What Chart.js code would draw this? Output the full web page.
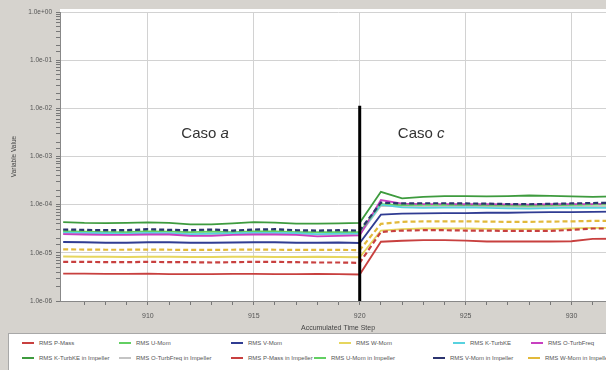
<!DOCTYPE html>
<html>
<head>
<meta charset="utf-8">
<script src="https://cdn.jsdelivr.net/npm/chart.js@4.4.0/dist/chart.umd.min.js"></script>
<style>
  html, body { margin: 0; padding: 0; }
  body { width: 606px; height: 370px; overflow: hidden; background: #d6d3ce; position: relative; font-family: "Liberation Sans", Arial, sans-serif; }
  #wrap { position: absolute; left: 0; top: 0; width: 618px; height: 332px; }
  #legend { position: absolute; left: 8px; top: 333px; width: 610px; height: 38px; background: #fff; border: 1px solid #a8a8a8; box-sizing: border-box; }
  .item { position: absolute; font-size: 6px; color: #555; white-space: nowrap; line-height: 8px; }
  .swatch { display: inline-block; width: 12px; height: 0; border-top: 2px solid; vertical-align: middle; margin-right: 5px; }
</style>
</head>
<body>
<div id="wrap"><canvas id="chart" width="618" height="332"></canvas></div>
<div id="legend"></div>
<script>
// accumulated time steps
const steps = [906, 907, 908, 909, 910, 911, 912, 913, 914, 915, 916, 917, 918, 919, 920,
               921, 922, 923, 924, 925, 926, 927, 928, 929, 930, 931, 932];

const pMass = [3.7e-6, 3.7e-6, 3.65e-6, 3.65e-6, 3.7e-6, 3.6e-6, 3.6e-6, 3.6e-6, 3.65e-6, 3.65e-6, 3.6e-6, 3.6e-6, 3.65e-6, 3.6e-6, 3.55e-6,
               1.7e-5, 1.78e-5, 1.84e-5, 1.84e-5, 1.8e-5, 1.72e-5, 1.72e-5, 1.72e-5, 1.72e-5, 1.74e-5, 1.95e-5, 1.96e-5];
const uMom = [2.8e-5, 2.75e-5, 2.7e-5, 2.7e-5, 2.8e-5, 2.75e-5, 2.7e-5, 2.75e-5, 2.7e-5, 2.8e-5, 2.8e-5, 2.7e-5, 2.7e-5, 2.7e-5, 2.7e-5,
              1.02e-4, 9.8e-5, 9.9e-5, 9.9e-5, 9.8e-5, 9.7e-5, 9.6e-5, 9.5e-5, 9.7e-5, 9.9e-5, 1.0e-4, 1.02e-4];
const vMom = [1.68e-5, 1.66e-5, 1.62e-5, 1.62e-5, 1.66e-5, 1.66e-5, 1.62e-5, 1.62e-5, 1.64e-5, 1.66e-5, 1.66e-5, 1.62e-5, 1.62e-5, 1.64e-5, 1.6e-5,
              6.2e-5, 6.5e-5, 6.6e-5, 6.7e-5, 6.7e-5, 6.8e-5, 6.8e-5, 6.9e-5, 7.0e-5, 7.0e-5, 7.1e-5, 7.2e-5];
const wMom = [8.4e-6, 8.3e-6, 8.3e-6, 8.2e-6, 8.3e-6, 8.3e-6, 8.2e-6, 8.2e-6, 8.3e-6, 8.3e-6, 8.2e-6, 8.2e-6, 8.3e-6, 8.2e-6, 8.1e-6,
              2.9e-5, 3.1e-5, 3.2e-5, 3.2e-5, 3.2e-5, 3.15e-5, 3.1e-5, 3.1e-5, 3.1e-5, 3.2e-5, 3.3e-5, 3.3e-5];
const kTurb = [2.65e-5, 2.6e-5, 2.55e-5, 2.5e-5, 2.6e-5, 2.55e-5, 2.45e-5, 2.5e-5, 2.55e-5, 2.6e-5, 2.6e-5, 2.55e-5, 2.45e-5, 2.5e-5, 2.5e-5,
               1.0e-4, 8.8e-5, 8.6e-5, 8.7e-5, 8.8e-5, 8.6e-5, 8.4e-5, 8.3e-5, 8.5e-5, 8.7e-5, 8.6e-5, 8.6e-5];
const oTurb = [2.45e-5, 2.4e-5, 2.35e-5, 2.35e-5, 2.4e-5, 2.4e-5, 2.25e-5, 2.25e-5, 2.35e-5, 2.4e-5, 2.4e-5, 2.35e-5, 2.2e-5, 2.25e-5, 2.3e-5,
               1.25e-4, 1.05e-4, 1.03e-4, 1.03e-4, 1.02e-4, 1.02e-4, 1.01e-4, 1.0e-4, 1.02e-4, 1.03e-4, 1.03e-4, 1.04e-4];
const kTurbImp = [4.35e-5, 4.2e-5, 4.15e-5, 4.2e-5, 4.3e-5, 4.2e-5, 3.9e-5, 3.9e-5, 4.1e-5, 4.35e-5, 4.25e-5, 4.05e-5, 4.05e-5, 4.1e-5, 4.2e-5,
                  1.85e-4, 1.35e-4, 1.45e-4, 1.5e-4, 1.5e-4, 1.48e-4, 1.5e-4, 1.55e-4, 1.52e-4, 1.48e-4, 1.45e-4, 1.48e-4];
const oTurbImp = [2.55e-5, 2.5e-5, 2.45e-5, 2.45e-5, 2.5e-5, 2.5e-5, 2.4e-5, 2.4e-5, 2.45e-5, 2.5e-5, 2.5e-5, 2.45e-5, 2.4e-5, 2.4e-5, 2.4e-5,
                  9.5e-5, 9.2e-5, 9.0e-5, 9.1e-5, 9.2e-5, 9.1e-5, 8.9e-5, 8.8e-5, 9.0e-5, 9.2e-5, 9.1e-5, 9.2e-5];
const pMassImp = [6.5e-6, 6.5e-6, 6.4e-6, 6.4e-6, 6.5e-6, 6.4e-6, 6.4e-6, 6.3e-6, 6.4e-6, 6.5e-6, 6.5e-6, 6.4e-6, 6.3e-6, 6.3e-6, 6.2e-6,
                  2.72e-5, 2.9e-5, 2.95e-5, 2.95e-5, 2.9e-5, 2.9e-5, 2.85e-5, 2.85e-5, 2.85e-5, 3.0e-5, 3.2e-5, 3.2e-5];
const uMomImp = [2.9e-5, 2.85e-5, 2.85e-5, 2.8e-5, 2.9e-5, 2.85e-5, 2.8e-5, 2.85e-5, 2.8e-5, 2.9e-5, 2.9e-5, 2.85e-5, 2.8e-5, 2.8e-5, 2.8e-5,
                 1.06e-4, 1.02e-4, 1.03e-4, 1.03e-4, 1.02e-4, 1.01e-4, 1.0e-4, 9.9e-5, 1.0e-4, 1.02e-4, 1.04e-4, 1.06e-4];
const vMomImp = [3.05e-5, 3.0e-5, 2.95e-5, 2.95e-5, 3.1e-5, 3.0e-5, 2.95e-5, 3.05e-5, 2.9e-5, 3.05e-5, 3.1e-5, 2.95e-5, 2.9e-5, 2.95e-5, 2.9e-5,
                 1.1e-4, 1.06e-4, 1.07e-4, 1.07e-4, 1.06e-4, 1.05e-4, 1.03e-4, 1.02e-4, 1.04e-4, 1.06e-4, 1.08e-4, 1.1e-4];
const wMomImp = [1.18e-5, 1.17e-5, 1.16e-5, 1.16e-5, 1.17e-5, 1.16e-5, 1.15e-5, 1.15e-5, 1.16e-5, 1.17e-5, 1.16e-5, 1.15e-5, 1.15e-5, 1.15e-5, 1.14e-5,
                 4.0e-5, 4.4e-5, 4.5e-5, 4.5e-5, 4.5e-5, 4.45e-5, 4.4e-5, 4.4e-5, 4.45e-5, 4.5e-5, 4.6e-5, 4.6e-5];

const seriesNames = ['RMS P-Mass', 'RMS U-Mom', 'RMS V-Mom', 'RMS W-Mom', 'RMS K-TurbKE', 'RMS O-TurbFreq',
                     'RMS K-TurbKE in Impeller', 'RMS O-TurbFreq in Impeller', 'RMS P-Mass in Impeller',
                     'RMS U-Mom in Impeller', 'RMS V-Mom in Impeller', 'RMS W-Mom in Impeller'];
const seriesValues = [pMass, uMom, vMom, wMom, kTurb, oTurb, kTurbImp, oTurbImp, pMassImp, uMomImp, vMomImp, wMomImp];

// vertical separator between the two cases
const splitStep = 920;
const splitRange = [0.0113, 1e-6];

// y axis decades
const yMin = 1e-6;
const yMax = 1;

// styles (kept apart from the data)
const colors = ['#c8403f', '#62cf62', '#303c92', '#e6d65e', '#58d2df', '#c83fc0',
                '#3e9b3e', '#c4c4c4', '#c8403f', '#62cf62', '#2c346f', '#e2b93a'];
const dashed = [false, false, false, false, false, false, false, false, true, true, true, true];
const drawOrder = [9, 6, 5, 8, 4, 3, 0, 7, 7, 2, 1, 8];
const legendPos = [[13, 5], [110, 5], [222, 5], [330, 5], [444, 5], [522, 5],
                   [13, 20], [110, 20], [222, 20], [305, 20], [424, 20], [519, 20]];

const datasets = seriesNames.map((name, i) => ({
    label: name,
    data: steps.map((s, k) => ({ x: s, y: seriesValues[i][k] })),
    borderColor: colors[i],
    borderWidth: dashed[i] ? 2.2 : 1.8,
    borderDash: dashed[i] ? [5, 3] : [],
    pointRadius: 0,
    tension: 0,
    order: drawOrder[i] + 1
}));

datasets.push({
    label: 'split',
    data: splitRange.map(v => ({ x: splitStep, y: v })),
    borderColor: '#000',
    borderWidth: 3,
    pointRadius: 0,
    order: 0
});

const caseLabels = [
    { text: 'Caso ', letter: 'a', x: 912.7, y: 0.003 },
    { text: 'Caso ', letter: 'c', x: 922.9, y: 0.003 }
];

const isDecade = v => Math.abs(Math.log10(v) - Math.round(Math.log10(v))) < 1e-6;

const plotBackground = {
    id: 'plotBackground',
    beforeDraw(chart) {
        const { ctx, chartArea } = chart;
        ctx.save();
        ctx.fillStyle = '#fff';
        ctx.fillRect(chartArea.left, chartArea.top - 3, chartArea.right - chartArea.left, chartArea.bottom - chartArea.top + 3);
        ctx.restore();
    }
};

const caseText = {
    id: 'caseText',
    afterDatasetsDraw(chart) {
        const { ctx, scales } = chart;
        ctx.save();
        ctx.fillStyle = '#333';
        ctx.textBaseline = 'middle';
        caseLabels.forEach(c => {
            ctx.font = '15px "Liberation Sans", Arial, sans-serif';
            const w1 = ctx.measureText(c.text).width;
            ctx.font = 'italic 15px "Liberation Sans", Arial, sans-serif';
            const w2 = ctx.measureText(c.letter).width;
            const left = scales.x.getPixelForValue(c.x) - (w1 + w2) / 2;
            const py = scales.y.getPixelForValue(c.y);
            ctx.font = '15px "Liberation Sans", Arial, sans-serif';
            ctx.fillText(c.text, left, py);
            ctx.font = 'italic 15px "Liberation Sans", Arial, sans-serif';
            ctx.fillText(c.letter, left + w1, py);
        });
        ctx.restore();
    }
};

new Chart(document.getElementById('chart').getContext('2d'), {
    type: 'line',
    data: { datasets },
    options: {
        responsive: false,
        animation: false,
        layout: { padding: { top: 12, right: 2, left: 0, bottom: 0 } },
        plugins: {
            legend: { display: false },
            tooltip: { enabled: false }
        },
        scales: {
            x: {
                type: 'linear',
                min: 905.85,
                max: 932.1,
                afterBuildTicks: ax => { ax.ticks = ax.ticks.filter(t => Number.isInteger(t.value)); },
                afterFit: s => { s.height = 31; },
                ticks: {
                    stepSize: 1,
                    autoSkip: false,
                    maxRotation: 0,
                    padding: 7,
                    color: '#555',
                    font: { size: 7 },
                    callback: v => (v % 5 === 0 ? String(v) : '')
                },
                grid: {
                    color: c => (c.tick && c.tick.value % 5 === 0 ? '#d2d2d2' : 'rgba(0,0,0,0)'),
                    tickColor: '#777',
                    tickLength: 4
                },
                border: { color: '#888' },
                title: {
                    display: true,
                    text: 'Accumulated Time Step',
                    color: '#444',
                    font: { size: 7 },
                    padding: 0
                }
            },
            y: {
                type: 'logarithmic',
                min: yMin,
                max: yMax,
                afterFit: s => { s.width = 60; },
                ticks: {
                    autoSkip: false,
                    padding: 4,
                    color: '#555',
                    font: { size: 6.5 },
                    callback: v => (isDecade(v)
                        ? v.toExponential(1).replace(/e([+-])(\d)$/, (m, sg, d) => 'e' + sg + '0' + d)
                        : '')
                },
                grid: {
                    color: c => (c.tick && isDecade(c.tick.value) ? '#d2d2d2' : 'rgba(0,0,0,0)'),
                    tickColor: '#777',
                    tickLength: 4
                },
                border: { color: '#888' },
                title: {
                    display: true,
                    text: 'Variable Value',
                    color: '#444',
                    font: { size: 6.5 },
                    padding: { top: 10, bottom: 0 }
                }
            }
        }
    },
    plugins: [plotBackground, caseText]
});

// legend laid out in two rows like the original
const legend = document.getElementById('legend');
seriesNames.forEach((name, i) => {
    const item = document.createElement('div');
    item.className = 'item';
    item.style.left = legendPos[i][0] + 'px';
    item.style.top = legendPos[i][1] + 'px';
    const sw = document.createElement('span');
    sw.className = 'swatch';
    sw.style.borderTopColor = colors[i];
    sw.style.borderTopStyle = dashed[i] ? 'dashed' : 'solid';
    item.appendChild(sw);
    item.appendChild(document.createTextNode(name));
    legend.appendChild(item);
});
</script>
</body>
</html>
